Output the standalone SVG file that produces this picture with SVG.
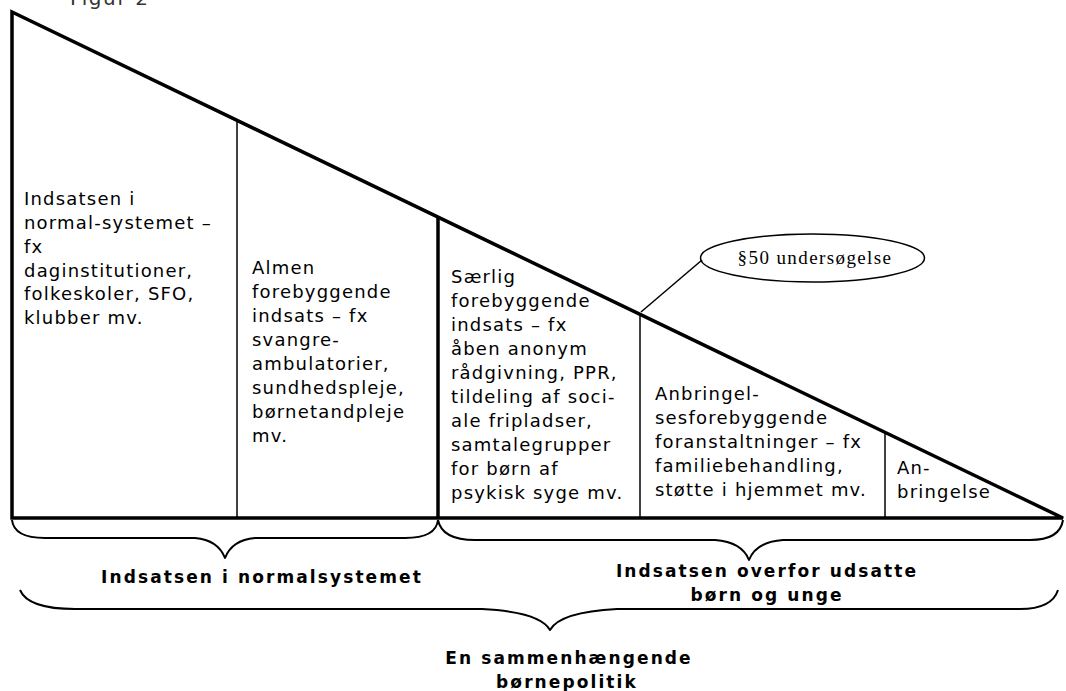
<svg xmlns="http://www.w3.org/2000/svg" width="1066" height="691" viewBox="0 0 1066 691">
<style>
.t{font-family:"DejaVu Sans","Noto Sans",sans-serif;font-size:18px;letter-spacing:1.2px;fill:#000}
.b{font-family:"DejaVu Sans","Noto Sans",sans-serif;font-size:17px;font-weight:bold;letter-spacing:2.1px;fill:#000;text-anchor:middle}
.s{font-family:"Liberation Serif","DejaVu Serif",serif;font-size:19px;letter-spacing:1.4px;fill:#000;text-anchor:middle}
.thick{fill:none;stroke:#000;stroke-width:3.5;stroke-linejoin:miter}
.thin{fill:none;stroke:#000;stroke-width:1.5}
.brace{fill:none;stroke:#000;stroke-width:2;stroke-linejoin:round}
</style>
<rect width="1066" height="691" fill="#fff"/>
<text x="70" y="5" style="font-family:'DejaVu Sans','Noto Sans',sans-serif;font-size:20px;letter-spacing:1.6px;fill:#333">Figur 2</text>

<g id="triangle">
<polygon class="thick" points="12,12 12,518 1063,518"/>
<line class="thick" x1="438" y1="217" x2="438" y2="518"/>
<line class="thin" x1="237" y1="120" x2="237" y2="518"/>
<line class="thin" x1="640" y1="313" x2="640" y2="518"/>
<line class="thin" x1="885" y1="431" x2="885" y2="518"/>
</g>

<g id="col1">
<text class="t" x="24" y="205">Indsatsen i</text>
<text class="t" x="24" y="229">normal-systemet –</text>
<text class="t" x="24" y="253">fx</text>
<text class="t" x="24" y="277">daginstitutioner,</text>
<text class="t" x="24" y="300">folkeskoler, SFO,</text>
<text class="t" x="24" y="324">klubber mv.</text>
</g>

<g id="col2">
<text class="t" x="252" y="274">Almen</text>
<text class="t" x="252" y="298">forebyggende</text>
<text class="t" x="252" y="322">indsats – fx</text>
<text class="t" x="252" y="346">svangre-</text>
<text class="t" x="252" y="370">ambulatorier,</text>
<text class="t" x="252" y="394">sundhedspleje,</text>
<text class="t" x="252" y="418">børnetandpleje</text>
<text class="t" x="252" y="442">mv.</text>
</g>

<g id="col3">
<text class="t" x="451" y="283">Særlig</text>
<text class="t" x="451" y="307">forebyggende</text>
<text class="t" x="451" y="331">indsats – fx</text>
<text class="t" x="451" y="355">åben anonym</text>
<text class="t" x="451" y="379">rådgivning, PPR,</text>
<text class="t" x="451" y="403">tildeling af soci-</text>
<text class="t" x="451" y="427">ale fripladser,</text>
<text class="t" x="451" y="451">samtalegrupper</text>
<text class="t" x="451" y="475">for børn af</text>
<text class="t" x="451" y="499">psykisk syge mv.</text>
</g>

<g id="col4">
<text class="t" x="655" y="400">Anbringel-</text>
<text class="t" x="655" y="424">sesforebyggende</text>
<text class="t" x="655" y="448">foranstaltninger – fx</text>
<text class="t" x="655" y="472">familiebehandling,</text>
<text class="t" x="655" y="496">støtte i hjemmet mv.</text>
</g>

<g id="col5">
<text class="t" x="897" y="474">An-</text>
<text class="t" x="897" y="498">bringelse</text>
</g>

<g id="callout">
<ellipse class="thin" cx="812.5" cy="258" rx="112" ry="24"/>
<text class="s" x="815" y="264">§50 undersøgelse</text>
</g>

<g id="connectors">
<line class="thin" x1="641" y1="312" x2="702" y2="260"/>
</g>

<g id="brace-left">
<path class="brace" d="M12,520 Q14,538 45,538 L195,538 Q218,540 225,558 Q232,540 255,538 L405,538 Q436,538 438,520"/>
<text class="b" x="262" y="583">Indsatsen i normalsystemet</text>
</g>

<g id="brace-right">
<path class="brace" d="M438,520 Q442,540 475,540 L715,540 Q742,542 749,560 Q756,542 783,540 L1030,540 Q1060,540 1063,520"/>
<text class="b" x="767" y="577">Indsatsen overfor udsatte</text>
<text class="b" x="767" y="601">børn og unge</text>
</g>

<g id="brace-big">
<path class="brace" d="M20,590 Q28,609 75,609 L482,609 Q540,612 550,630 Q560,612 617,609 L1020,609 Q1052,609 1058,590"/>
<text class="b" x="569" y="664">En sammenhængende</text>
<text class="b" x="567" y="688">børnepolitik</text>
</g>
</svg>
